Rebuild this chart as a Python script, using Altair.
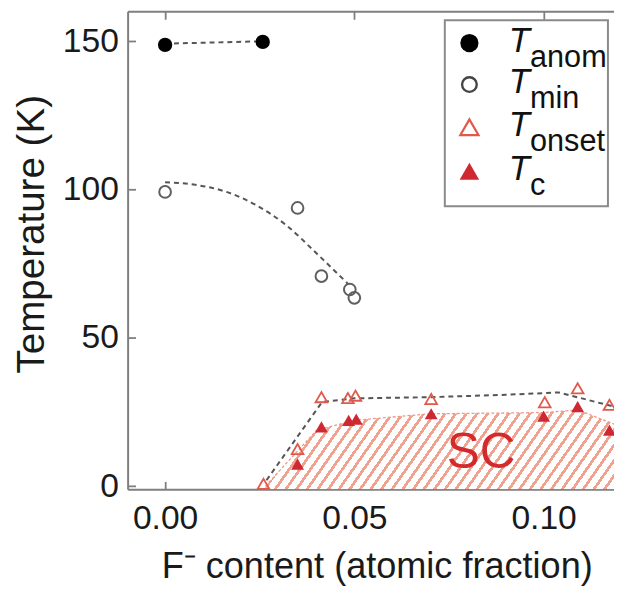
import math
import altair as alt
import pandas as pd

# ---------------- values ----------------
# T_anom (filled black circles)
anom_x = [0.0000, 0.0258]
anom_T = [148.8, 149.8]

# T_min (open grey circles)
min_x = [0.0000, 0.0350, 0.0413, 0.0488, 0.0500]
min_T = [99.2, 93.8, 70.8, 66.3, 63.5]

# T_onset (open red triangles)
onset_x = [0.0260, 0.0350, 0.0413, 0.0483, 0.0503, 0.0703, 0.1003, 0.1090, 0.1174]
onset_T = [0.8, 12.5, 30.0, 29.7, 30.5, 29.4, 28.3, 33.0, 27.4]

# T_c (filled red triangles)
tc_x = [0.0350, 0.0413, 0.0485, 0.0505, 0.0703, 0.1000, 0.1090, 0.1174]
tc_T = [7.4, 20.0, 22.2, 22.6, 24.4, 23.6, 26.8, 18.9]

# dashed guide lines
anom_guide_x = [0.0000, 0.0258]
anom_guide_T = [149.2, 150.0]

min_guide_x = [0.0000, 0.0080, 0.0160, 0.0240, 0.0320, 0.0400, 0.0485]
min_guide_T = [102.5, 101.6, 99.3, 94.8, 88.0, 78.5, 68.0]

onset_guide_x = [0.0268, 0.0415, 0.0500, 0.0700, 0.0900, 0.1040, 0.1186]
onset_guide_T = [2.0, 28.4, 29.6, 30.0, 30.8, 31.6, 26.8]

# hatched superconducting (SC) region, upper boundary
sc_x = [0.0265, 0.0400, 0.0500, 0.0700, 0.1000, 0.1090, 0.1195]
sc_T = [0.0, 18.8, 22.2, 24.4, 24.8, 25.7, 20.5]

# axis ticks
x_ticks = [0.0, 0.05, 0.10]
y_ticks = [0, 50, 100, 150]

# legend
leg_names = ["anom", "min", "onset", "c"]

# ---------------- layout / style ----------------
X_DOM = [-0.0099, 0.1186]
Y_DOM = [-1.07, 160.1]
PLOT_W = 492
PLOT_H = 483.5

FONT = "Liberation Sans"
AX_GREY = "#7f7f7f"
DASH_GREY = "#555555"
RED = "#d02832"
RED_LIGHT = "#e0594a"
HATCH = "#f0a28f"

xscale = alt.Scale(domain=X_DOM, nice=False, zero=False)
yscale = alt.Scale(domain=Y_DOM, nice=False, zero=False)


def X(axis=None):
    return alt.X("x:Q", scale=xscale, axis=axis)


def Y(axis=None):
    return alt.Y("T:Q", scale=yscale, axis=axis)


def df(xs, ts):
    return pd.DataFrame({"x": xs, "T": ts})


# hatch made as a striped linear gradient (bounding-box units)
px_x = PLOT_W / (X_DOM[1] - X_DOM[0])
px_y = PLOT_H / (Y_DOM[1] - Y_DOM[0])
bw = (max(sc_x) - min(sc_x)) * px_x
bh = (max(sc_T) - Y_DOM[0]) * px_y
theta = math.radians(55)
a, b = math.sin(theta) * bw, math.cos(theta) * bh
k = (a + b) / (a * a + b * b)
span = a + b
period, thick = 8.8, 2.8
n = span / period
stops = []
i = 0
while i / n < 1:
    o0 = i / n
    o1 = min(1.0, (i + thick / period) / n)
    stops += [
        alt.GradientStop(color="white", offset=o0),
        alt.GradientStop(color=HATCH, offset=o0),
        alt.GradientStop(color=HATCH, offset=o1),
        alt.GradientStop(color="white", offset=o1),
    ]
    i += 1
stops.append(alt.GradientStop(color="white", offset=1.0))
hatch = alt.Gradient(gradient="linear", stops=stops, x1=0, y1=0, x2=k * a, y2=k * b)

sc_df = df(sc_x, sc_T)
sc_df["base"] = Y_DOM[0]

left_axis = alt.Axis(values=y_ticks, title="Temperature (K)", tickSize={"expr": "-8"},
                     labelPadding=17.3, titleX=-85, titleY=225, titleBaseline="alphabetic",
                     titleAngle=-90, titleFontSize=39)
bottom_axis = alt.Axis(values=x_ticks, format=".2f", title="F⁻ content (atomic fraction)",
                       tickSize={"expr": "-8"}, labelPadding=21, titleY=89,
                       titleX=252, titleBaseline="alphabetic", titleFontSize=36.5)
top_axis = alt.Axis(values=x_ticks, orient="top", labels=False, title=None,
                    tickSize={"expr": "-8"})

area = alt.Chart(sc_df).mark_area(color=hatch, clip=True).encode(
    x=X(), y=Y(left_axis), y2="base:Q",
)
area_edge = alt.Chart(sc_df).mark_line(color="#ee9a88", strokeWidth=1.3,
                                       strokeDash=[3, 2], clip=True).encode(x=X(), y=Y())

g_anom = alt.Chart(df(anom_guide_x, anom_guide_T)).mark_line(
    color=DASH_GREY, strokeWidth=2, strokeDash=[5, 4]).encode(x=X(top_axis), y=Y())
g_min = alt.Chart(df(min_guide_x, min_guide_T)).mark_line(
    color=DASH_GREY, strokeWidth=2, strokeDash=[5, 4], interpolate="monotone").encode(x=X(), y=Y())
g_onset = alt.Chart(df(onset_guide_x, onset_guide_T)).mark_line(
    color=DASH_GREY, strokeWidth=2, strokeDash=[5, 4], clip=True).encode(x=X(), y=Y())

p_anom = alt.Chart(df(anom_x, anom_T)).mark_point(
    shape="circle", filled=True, color="black", size=210, opacity=1).encode(x=X(bottom_axis), y=Y())
p_min = alt.Chart(df(min_x, min_T)).mark_point(
    shape="circle", filled=False, color="#5f5f5f", size=140, strokeWidth=2, opacity=1).encode(x=X(), y=Y())
p_onset = alt.Chart(df(onset_x, onset_T)).mark_point(
    shape="triangle-up", filled=False, color=RED_LIGHT, size=140, strokeWidth=1.8, opacity=1).encode(x=X(), y=Y())
p_tc = alt.Chart(df(tc_x, tc_T)).mark_point(
    shape="triangle-up", filled=True, color=RED, size=170, opacity=1).encode(x=X(), y=Y())

sc_label = alt.Chart(pd.DataFrame({"x": [0.0835], "T": [6.1], "t": ["SC"]})).mark_text(
    font=FONT, fontSize=50, color="#d42a2c", align="center", baseline="alphabetic").encode(
    x=X(), y=Y(), text="t:N")

# ---- legend drawn in data space ----
leg_box = alt.Chart(pd.DataFrame({"x": [0.0739], "x2": [0.1170], "T": [157.1], "T2": [94.4]})).mark_rect(
    fill="white", stroke="#8a8a8a", strokeWidth=2).encode(x=X(), x2="x2:Q", y=Y(), y2="T2:Q")
leg_T = [149.4, 135.4, 121.0, 106.2]
leg_sx = 0.0804
leg_tx = 0.0908
leg_anom = alt.Chart(df([leg_sx], [leg_T[0]])).mark_point(
    shape="circle", filled=True, color="black", size=340, opacity=1).encode(x=X(), y=Y())
leg_min = alt.Chart(df([leg_sx], [leg_T[1]])).mark_point(
    shape="circle", filled=False, color="#444444", size=220, strokeWidth=2.4, opacity=1).encode(x=X(), y=Y())
leg_onset = alt.Chart(df([leg_sx], [leg_T[2]])).mark_point(
    shape="triangle-up", filled=False, color=RED_LIGHT, size=340, strokeWidth=2.2, opacity=1).encode(x=X(), y=Y())
leg_tc = alt.Chart(df([leg_sx], [leg_T[3]])).mark_point(
    shape="triangle-up", filled=True, color=RED, size=390, opacity=1).encode(x=X(), y=Y())

leg_txt = pd.DataFrame({"x": [leg_tx] * 4, "T": leg_T, "main": ["T"] * 4, "sub": leg_names})
leg_main = alt.Chart(leg_txt).mark_text(
    font=FONT, fontSize=35, fontStyle="italic", color="#111111", align="left",
    baseline="alphabetic", dy=9).encode(x=X(), y=Y(), text="main:N")
leg_sub = alt.Chart(leg_txt).mark_text(
    font=FONT, fontSize=31, color="#111111", align="left",
    baseline="alphabetic", dx=21.5, dy=24).encode(x=X(), y=Y(), text="sub:N")

chart = alt.layer(
    area, area_edge, g_anom, g_min, g_onset,
    p_anom, p_min, p_onset, p_tc, sc_label,
    leg_box, leg_anom, leg_min, leg_onset, leg_tc, leg_main, leg_sub,
).resolve_axis(x="independent", y="independent").properties(
    width=PLOT_W, height=PLOT_H,
    autosize=alt.AutoSizeParams(type="none"),
    padding={"left": 121, "top": 0, "right": 0, "bottom": 101},
).configure_view(stroke=None).configure_axis(
    grid=False, domainColor=AX_GREY, domainWidth=2, tickColor=AX_GREY, tickWidth=1.8,
    labelFont=FONT, labelFontSize=34, labelColor="#1a1a1a",
    titleFont=FONT, titleFontWeight="normal", titleColor="#1a1a1a",
)

chart.save("out.html", embed_options={"renderer": "svg", "actions": False})
